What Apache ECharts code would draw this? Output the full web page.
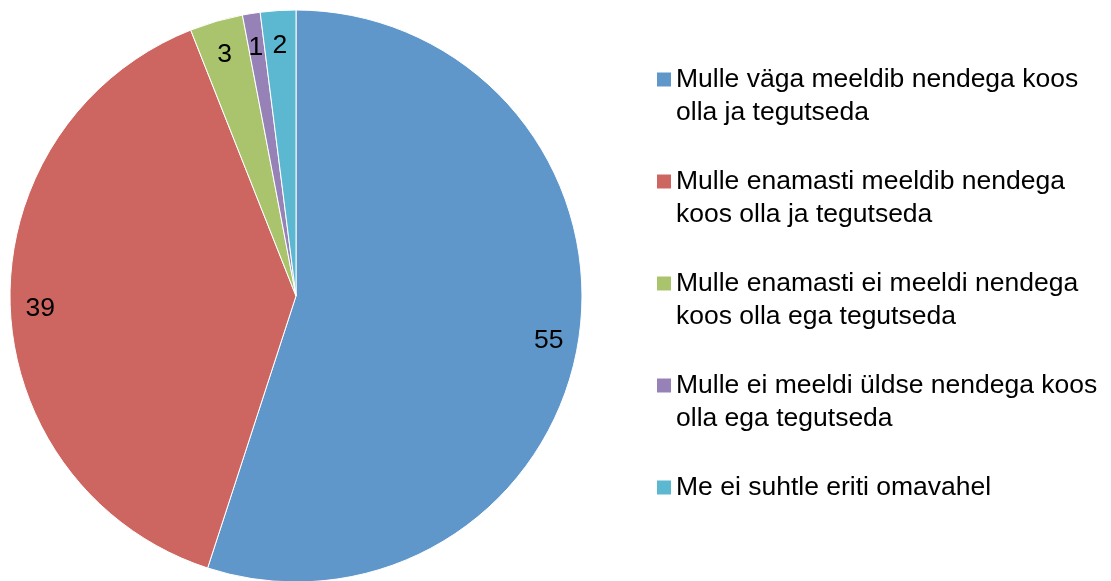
<!DOCTYPE html>
<html>
<head>
<meta charset="utf-8">
<script src="https://cdn.jsdelivr.net/npm/echarts@6/dist/echarts.min.js"></script>
<style>
html,body{margin:0;padding:0;background:#fff;}
#chart{width:1111px;height:581px;}
</style>
</head>
<body>
<div id="chart"></div>
<script>
const categories = [
  'Mulle väga meeldib nendega koos olla ja tegutseda',
  'Mulle enamasti meeldib nendega koos olla ja tegutseda',
  'Mulle enamasti ei meeldi nendega koos olla ega tegutseda',
  'Mulle ei meeldi üldse nendega koos olla ega tegutseda',
  'Me ei suhtle eriti omavahel'
];
const legendLines = [
  ['Mulle väga meeldib nendega koos', 'olla ja tegutseda'],
  ['Mulle enamasti meeldib nendega', 'koos olla ja tegutseda'],
  ['Mulle enamasti ei meeldi nendega', 'koos olla ega tegutseda'],
  ['Mulle ei meeldi üldse nendega koos', 'olla ega tegutseda'],
  ['Me ei suhtle eriti omavahel', '\u200b']
];
const values = [55, 39, 3, 1, 2];
const colors = ['#6097CA', '#CD6661', '#A9C46D', '#9682B6', '#5BB8D0'];

const data = categories.map((c, i) => ({ name: c, value: values[i] }));
const font = '"Liberation Sans", Arial, sans-serif';

const chart = echarts.init(document.getElementById('chart'));
chart.setOption({
  animation: false,
  color: colors,
  legend: {
    orient: 'vertical',
    left: 657,
    top: 30,
    padding: 0,
    itemWidth: 14,
    itemHeight: 14,
    itemGap: 3,
    icon: 'rect',
    itemStyle: { borderWidth: 0 },
    data: categories,
    formatter: function (name) {
      const lines = legendLines[categories.indexOf(name)];
      return '\u200b\n' + lines.join('\n');
    },
    textStyle: {
      fontFamily: font,
      fontSize: 26.5,
      color: '#000',
      lineHeight: 33
    }
  },
  series: [
    {
      type: 'pie',
      center: [296, 296],
      radius: [0, 286],
      startAngle: 90,
      clockwise: true,
      itemStyle: { borderColor: '#fff', borderWidth: 1 },
      label: { show: false },
      labelLine: { show: false },
      emphasis: { disabled: true },
      data: data
    },
    {
      type: 'pie',
      center: [296, 296],
      radius: [220, 286],
      startAngle: 90,
      clockwise: true,
      silent: true,
      itemStyle: { color: 'rgba(0,0,0,0)' },
      label: {
        show: true,
        position: 'inside',
        formatter: '{c}',
        fontFamily: font,
        fontSize: 26.5,
        color: '#000',
        offset: [0, 5]
      },
      labelLine: { show: false },
      emphasis: { disabled: true },
      data: data
    }
  ]
});
</script>
</body>
</html>
